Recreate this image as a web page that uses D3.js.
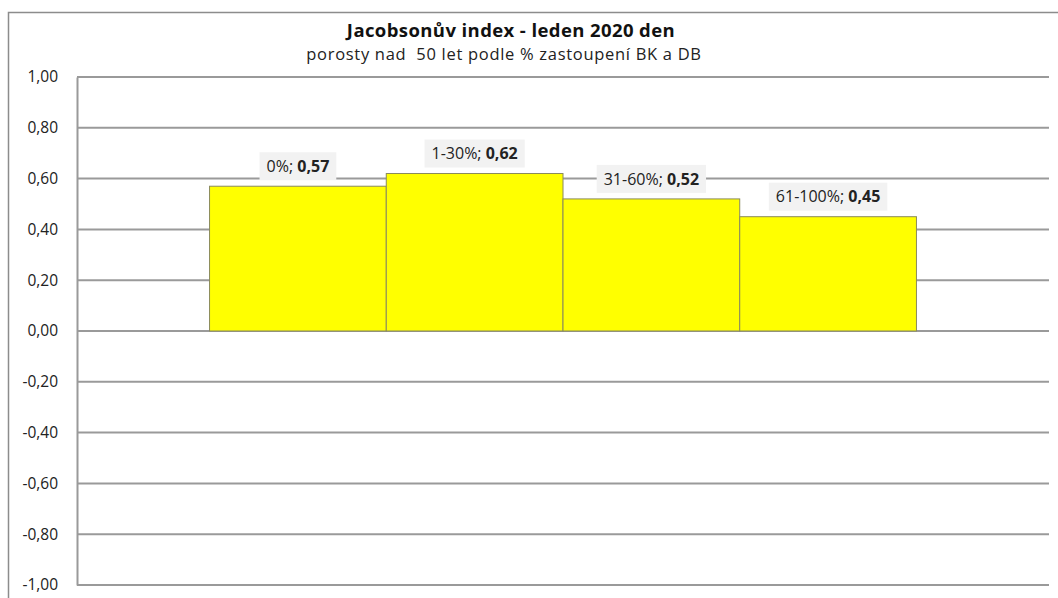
<!DOCTYPE html>
<html>
<head>
<meta charset="utf-8">
<script src="https://cdn.jsdelivr.net/npm/d3@7"></script>
<style>
    body { margin: 0; background: #fff; }
    svg { display: block; font-family: "Open Sans", Lato, sans-serif; }
</style>
</head>
<body>
<div id="chart"></div>
<script>
    // Data
    var categories = ["0%", "1-30%", "31-60%", "61-100%"];
    var values = [0.57, 0.62, 0.52, 0.45];
    var yTicks = [1, 0.8, 0.6, 0.4, 0.2, 0, -0.2, -0.4, -0.6, -0.8, -1];
    var title = "Jacobsonův index - leden 2020 den";
    var subtitle = "porosty nad  50 let podle % zastoupení BK a DB";

    var width = 1058, height = 598;
    // czech decimal comma, plain hyphen for minus
    var fmt = function(v) { return d3.format(".2f")(v).replace(".", ",").replace("\u2212", "-"); };

    var svg = d3.select("#chart").append("svg")
        .attr("width", width)
        .attr("height", height);

    // Chart frame
    svg.append("path")
        .attr("d", "M8.5,600 V12.5 H1060")
        .attr("fill", "none")
        .attr("stroke", "#8c8c8c")
        .attr("stroke-width", 1.5);

    var plot = { left: 77, right: 1049, top: 77, bottom: 585 };

    var x = d3.scaleBand()
        .domain(categories)
        .range([plot.left, plot.right])
        .paddingInner(0)
        .paddingOuter(0.75);

    var y = d3.scaleLinear()
        .domain([-1, 1])
        .range([plot.bottom, plot.top]);

    // Gridlines
    svg.append("g")
        .selectAll("line")
        .data(yTicks)
        .join("line")
        .attr("x1", plot.left)
        .attr("x2", plot.right)
        .attr("y1", function(d) { return y(d); })
        .attr("y2", function(d) { return y(d); })
        .attr("stroke", "#9a9a9a")
        .attr("stroke-width", 2);

    // Y axis
    var yAxis = d3.axisLeft(y)
        .tickValues(yTicks)
        .tickFormat(fmt)
        .tickSize(0)
        .tickPadding(19);

    var elYAxis = svg.append("g")
        .attr("transform", "translate(" + plot.left + ",0)")
        .call(yAxis);
    elYAxis.select(".domain")
        .attr("stroke", "#9a9a9a")
        .attr("stroke-width", 2);
    elYAxis.selectAll("text")
        .attr("font-family", "'Open Sans', Lato, sans-serif")
        .attr("font-size", 15.5)
        .attr("fill", "#222");

    // Bars
    svg.append("g")
        .selectAll("rect")
        .data(values)
        .join("rect")
        .attr("x", function(d, i) { return x(categories[i]); })
        .attr("width", x.bandwidth())
        .attr("y", function(d) { return y(d); })
        .attr("height", function(d) { return y(0) - y(d); })
        .attr("fill", "#ffff00")
        .attr("stroke", "#8a8a5c")
        .attr("stroke-width", 1);

    // Data labels
    var labels = svg.append("g")
        .selectAll("g")
        .data(values)
        .join("g")
        .attr("transform", function(d, i) {
            return "translate(" + (x(categories[i]) + x.bandwidth() / 2) + "," + (y(d) - 20) + ")";
        });

    var labelText = labels.append("text")
        .attr("text-anchor", "middle")
        .attr("dy", "0.35em")
        .attr("font-size", 16)
        .attr("fill", "#222");
    labelText.append("tspan").text(function(d, i) { return categories[i] + "; "; });
    labelText.append("tspan").attr("font-weight", "bold").text(function(d) { return fmt(d); });

    labels.each(function() {
        var g = d3.select(this);
        var bb = g.select("text").node().getBBox();
        g.insert("rect", "text")
            .attr("x", bb.x - 7)
            .attr("y", -14)
            .attr("width", bb.width + 14)
            .attr("height", 28)
            .attr("fill", "#f2f2f2");
    });

    // Titles
    svg.append("text")
        .attr("x", 511)
        .attr("y", 36.5)
        .attr("text-anchor", "middle")
        .attr("font-size", 18.5)
        .attr("font-weight", "bold")
        .attr("letter-spacing", 0.4)
        .attr("fill", "#111")
        .text(title);

    svg.append("text")
        .attr("x", 504)
        .attr("y", 59.5)
        .attr("text-anchor", "middle")
        .attr("font-size", 16.5)
        .attr("letter-spacing", 0.7)
        .attr("fill", "#222")
        .style("white-space", "pre")
        .text(subtitle);
</script>
</body>
</html>
